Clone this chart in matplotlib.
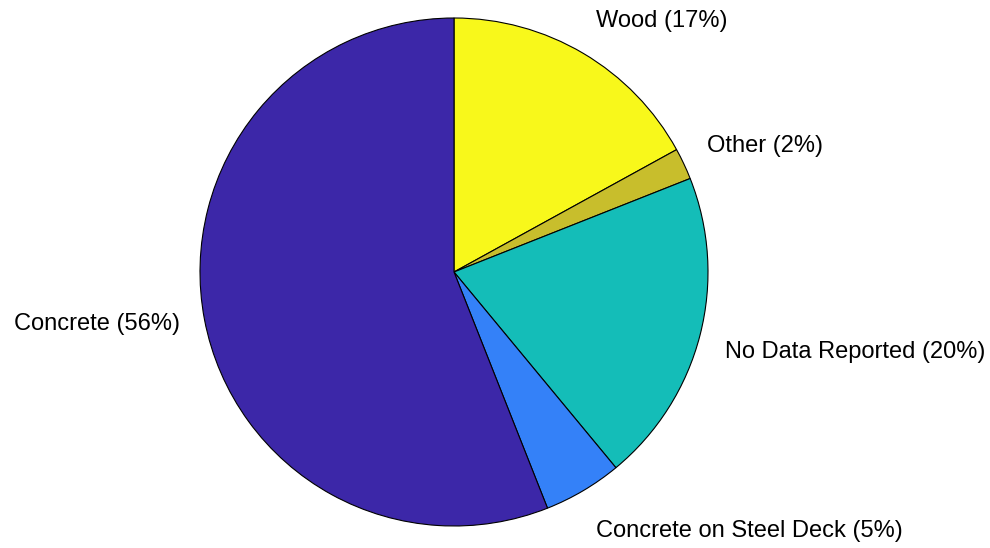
import numpy as np
import matplotlib
matplotlib.use("Agg")
import matplotlib.pyplot as plt

# Floor type shares
categories = ["Wood", "Other", "No Data Reported", "Concrete on Steel Deck", "Concrete"]
shares = [17, 2, 20, 5, 56]
colors = ["#F8F81B", "#C8BE2C", "#14BDB8", "#3481F8", "#3C27A8"]

plt.rcParams["font.family"] = ["Liberation Sans", "DejaVu Sans"]

W, H, DPI = 990, 548, 100
fig = plt.figure(figsize=(W / DPI, H / DPI), dpi=DPI)
ax = fig.add_axes([0, 0, 1, 1])

# pie centre and radius in pixels
cx, cy, R = 454, 272, 254

wedges, _ = ax.pie(shares, colors=colors, startangle=90, counterclock=False,
                   radius=1.0, center=(0, 0), frame=True,
                   wedgeprops=dict(edgecolor="black", linewidth=0.8))
ax.set_xlim(-cx / R, (W - cx) / R)
ax.set_ylim(-(H - cy) / R, cy / R)
ax.set_aspect("equal")
ax.axis("off")

# label alignment and small pixel nudges, per slice
label_style = {
    "Wood": ("left", "bottom", 0),
    "Other": ("left", "bottom", -4),
    "No Data Reported": ("left", "top", 0),
    "Concrete on Steel Deck": ("left", "top", -8),
    "Concrete": ("right", "center", 0),
}

total = float(sum(shares))
for w, name, val in zip(wedges, categories, shares):
    mid = np.deg2rad((w.theta1 + w.theta2) / 2.0)
    x, y = 1.1 * np.cos(mid), 1.1 * np.sin(mid)
    ha, va, dy = label_style[name]
    ax.annotate(f"{name} ({round(100 * val / total)}%)", xy=(x, y),
                xytext=(0, dy), textcoords="offset pixels",
                ha=ha, va=va, fontsize=17, color="black")

fig.savefig("out.png", dpi=DPI, facecolor="white")
